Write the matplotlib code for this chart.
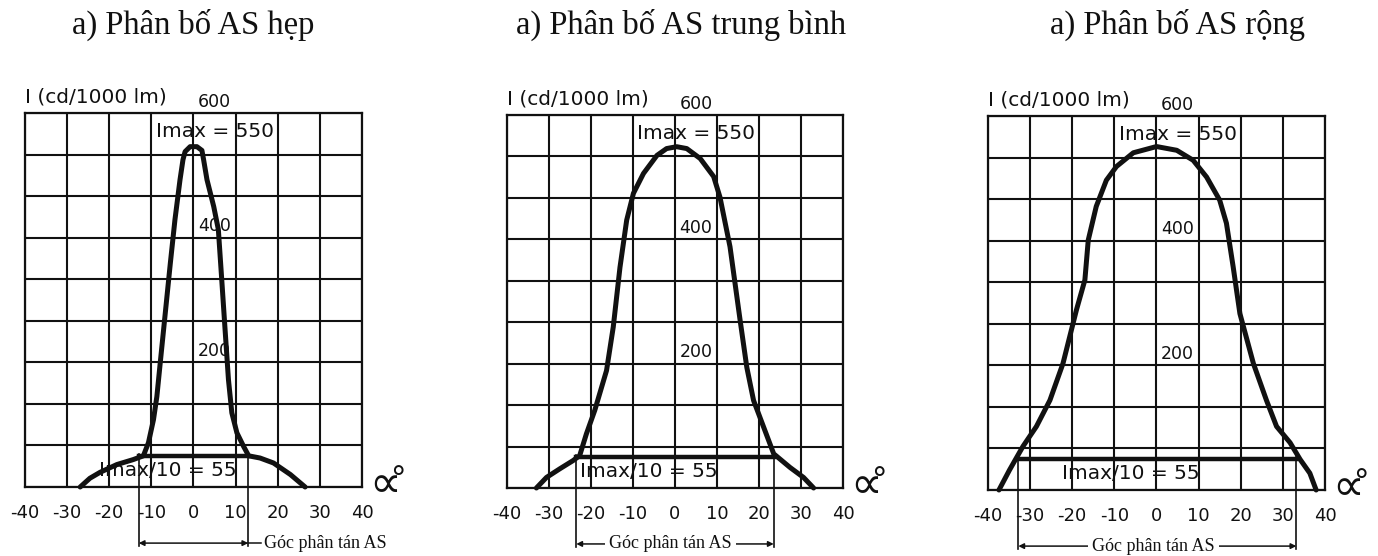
import numpy as np
import matplotlib.pyplot as plt

# Phân bố ánh sáng: góc (độ) và cường độ I (cd/1000 lm)
hep_goc = [-26.9, -24.6, -22.2, -18.2, -14.3, -11.9, -10.7, -9.5, -8.7, -7.9, -6.7, -5.5,
           -4.4, -3.2, -2.5, -2.0, -0.8, 0.8, 2.0, 2.4, 3.2, 4.8, 5.9, 6.7, 7.5, 8.3, 9.1,
           10.3, 11.9, 13.1, 15.8, 19.0, 23.0, 26.5]
hep_I = [0, 14, 23.5, 36, 44, 50, 71, 108, 145, 199, 279, 359,
         429, 493, 525, 538, 546, 546, 540, 525, 493, 450, 413, 333, 252, 172, 119,
         87, 65, 50, 46.5, 38.5, 20, 0]

tb_goc = [-33.0, -30.6, -27.4, -24.3, -22.7, -21.1, -19.1, -16.3, -14.7, -13.1, -11.5, -9.9,
          -7.5, -4.3, -2.0, 0.4, 2.8, 6.0, 9.2, 10.7, 13.1, 15.5, 17.1, 18.7, 21.1, 23.5,
          27.4, 30.6, 33.0]
tb_I = [0, 17, 31, 44, 52, 87, 125, 189, 259, 355, 431, 474,
        506, 535, 546, 549, 546, 530, 501, 468, 388, 270, 194, 141, 98, 55,
        33, 17, 0]

rong_goc = [-37.4, -34.9, -31.7, -28.5, -25.3, -22.2, -19.0, -17.0, -16.2, -14.3, -11.9, -9.5,
            -5.5, 0.0, 4.8, 8.7, 11.9, 15.0, 16.6, 18.2, 19.8, 23.0, 26.1, 28.5, 31.7, 34.1,
            36.4, 37.9]
rong_I = [0, 32, 70, 102, 144, 203, 289, 337, 401, 455, 497, 519,
          541, 551, 545, 529, 502, 465, 428, 358, 283, 203, 144, 102, 76, 49,
          27, 0]

tieu_de = ["a) Phân bố AS hẹp", "a) Phân bố AS trung bình", "a) Phân bố AS rộng"]
goc_tan = [(-13.0, 13.0), (-23.5, 23.5), (-32.8, 33.2)]   # góc phân tán AS
muc_10 = 50          # mức Imax/10 vẽ trên hình
x_nhan = [-40, -30, -20, -10, 0, 10, 20, 30, 40]
y_nhan = [200, 400, 600]

duong = [(hep_goc, hep_I), (tb_goc, tb_I), (rong_goc, rong_I)]

W, H = 1378, 556
fig = plt.figure(figsize=(W / 100, H / 100), dpi=100)
# khung lưới (pixel): trái, phải, trên, dưới
khung = [(25, 362, 113, 487), (507, 843, 115, 488), (988, 1325, 116, 490)]
tam_td = [193, 681, 1178]
mau = '#111111'

for k in range(3):
    l, r, t, b = khung[k]
    ax = fig.add_axes([l / W, 1 - b / H, (r - l) / W, (b - t) / H])
    ax.set_xlim(-40, 40)
    ax.set_ylim(0, 600)
    ax.set_xticks(x_nhan)
    ax.set_xticklabels([str(v) for v in x_nhan])
    ax.set_yticks(np.arange(0, 601, 600 / 9))
    ax.set_yticklabels([])
    ax.tick_params(length=0, pad=12, labelsize=13, colors=mau)
    ax.grid(True, color=mau, lw=1.5)
    for s in ax.spines.values():
        s.set_color(mau)
        s.set_linewidth(1.6)

    x, y = duong[k]
    ax.plot(x, y, color=mau, lw=3.6, solid_joinstyle='round', solid_capstyle='round',
            clip_on=False, zorder=5)

    a, c = goc_tan[k]
    ax.plot([a, c], [muc_10, muc_10], color=mau, lw=3.2, zorder=5)
    for g in (a, c):
        ax.plot([g, g], [muc_10 + 3, -95], color=mau, lw=1.2, clip_on=False, zorder=6)

    # mũi tên góc phân tán
    ax.annotate('', xy=(a, -90), xytext=(c, -90), annotation_clip=False,
                arrowprops=dict(arrowstyle='<|-|>', color=mau, lw=1.1,
                                mutation_scale=8, shrinkA=0, shrinkB=0))
    if k == 0:
        ax.plot([c, c + 3], [-90, -90], color=mau, lw=1.1, clip_on=False)
        ax.text(c + 3.8, -90, 'Góc phân tán AS', family='Liberation Serif', fontsize=13,
                ha='left', va='center', color=mau, clip_on=False)
    else:
        ax.text((a + c) / 2 - 1, -90, 'Góc phân tán AS', family='Liberation Serif',
                fontsize=13, ha='center', va='center', color=mau, clip_on=False,
                bbox=dict(facecolor='white', edgecolor='none', pad=3))

    for v in y_nhan:
        ax.text(5, v + 18, str(v), fontsize=12.5, ha='center', va='center', color=mau,
                clip_on=False, zorder=7)
    ax.text(-40, 626, 'I (cd/1000 lm)', fontsize=14.5, ha='left', va='center',
            color=mau, clip_on=False)
    ax.text(-9, 571, 'Imax = 550', fontsize=14.5, ha='left', va='center', color=mau,
            zorder=7)
    ax.text(-22.5, 27, 'Imax/10 = 55', fontsize=14.5, ha='left', va='center', color=mau,
            zorder=7)
    ax.text(39.8, 6, r'$\propto\!\!\!^{\circ}$', fontsize=32, ha='left', va='center',
            color=mau, clip_on=False)

    fig.text(tam_td[k] / W, 1 - 25 / H, tieu_de[k], family='Liberation Serif',
             fontsize=23.5, ha='center', va='center', color=mau)

fig.savefig('out.png', dpi=100, facecolor='white')
